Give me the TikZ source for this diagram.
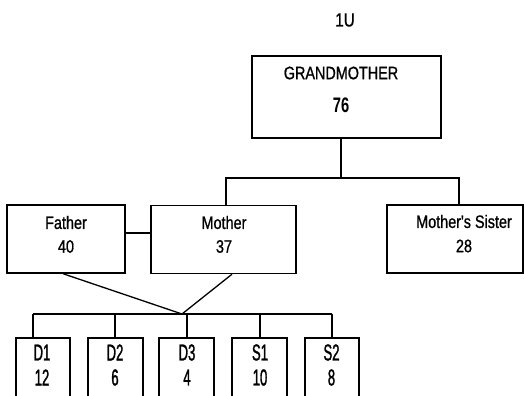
\documentclass[tikz,border=0pt]{standalone}
\usepackage{fontspec}
\setmainfont{Liberation Sans}
\newfontfamily\labfont[FakeStretch=0.8,FakeBold=0.9]{Liberation Sans}
\newfontfamily\numfont[FakeStretch=0.7]{Liberation Sans}
\newfontfamily\kidfont[FakeStretch=0.57,FakeBold=1.2]{Liberation Sans}
\begin{document}
\begin{tikzpicture}[x=1pt,y=-1pt,
  box/.style={draw=black,line width=1.4pt,fill=white,inner sep=0pt},
  lab/.style={inner sep=0pt,font=\labfont\fontsize{18}{20}\selectfont},
  kid/.style={inner sep=0pt,font=\kidfont\fontsize{23}{25}\selectfont},
  big/.style={inner sep=0pt,font=\numfont\bfseries\fontsize{21}{23}\selectfont},
  wire/.style={draw=black,line width=1.3pt}]
\fill[white] (0,0) rectangle (525,396);
\clip (0,0) rectangle (525,396);
\useasboundingbox (0,0) rectangle (525,396);
% title
\node[inner sep=0pt,font=\labfont\fontsize{19}{21}\selectfont] (title) at (345,20) {1U};
% grandmother
\node[box,minimum width=189pt,minimum height=82pt] (gm) at (346.5,97) {};
\node[lab] (gmt) at (341,73) {GRANDMOTHER};
\node[big] (gmn) at (341,105) {76};
% generation 2
\node[box,minimum width=118pt,minimum height=68pt] (father) at (66,239) {};
\node[lab] (fat) at (66,222.5) {Father};
\node[lab] (fan) at (66,246.5) {40};
\node[box,minimum width=145pt,minimum height=68pt] (mother) at (223.5,239.5) {};
\node[lab] (mot) at (224,222.5) {Mother};
\node[lab] (mon) at (224,246.5) {37};
\node[box,minimum width=136pt,minimum height=68pt] (sister) at (455,239) {};
\node[lab] (sit) at (464,221.5) {Mother's Sister};
\node[lab] (sin) at (464,246) {28};
% children
\node[box,minimum width=54pt,minimum height=64pt] (d1) at (43,370) {};
\node[box,minimum width=55pt,minimum height=64pt] (d2) at (115.5,370) {};
\node[box,minimum width=55pt,minimum height=64pt] (d3) at (186.5,370) {};
\node[box,minimum width=55pt,minimum height=64pt] (s1) at (259.5,370) {};
\node[box,minimum width=54pt,minimum height=64pt] (s2) at (332,370) {};
\node[kid] (d1t) at (42,352.5) {D1}; \node[kid] (d1n) at (42,377.5) {12};
\node[kid] (d2t) at (115,352.5) {D2}; \node[kid] (d2n) at (115,377.5) {6};
\node[kid] (d3t) at (187,352.5) {D3}; \node[kid] (d3n) at (187,377.5) {4};
\node[kid] (s1t) at (260,352.5) {S1}; \node[kid] (s1n) at (260,377.5) {10};
\node[kid] (s2t) at (331.5,352.5) {S2}; \node[kid] (s2n) at (331.5,377.5) {8};
% connectors
\coordinate (gj) at (341,178);
\coordinate (bl) at (226,178);
\coordinate (br) at (459,178);
\coordinate (cj) at (182,314);
\coordinate (kl) at (33,314);
\coordinate (kr) at (332,314);
\draw[wire] (gm.south -| gj) -- (gj);
\draw[wire] (bl |- mother.north) -- (bl) -- (br) -- (br |- sister.north);
\draw[wire] (father.east |- 0,233) -- (mother.west |- 0,233);
\draw[wire] (father.south -| 63,0) -- (cj) -- (mother.south -| 232,0);
\draw[wire] (kl) -- (kr);
\draw[wire] (kl) -- (kl |- d1.north);
\draw[wire] (115,314) -- (d2.north -| 115,0);
\draw[wire] (187,314) -- (d3.north -| 187,0);
\draw[wire] (260,314) -- (s1.north -| 260,0);
\draw[wire] (kr) -- (s2.north -| kr);
\end{tikzpicture}
\end{document}
